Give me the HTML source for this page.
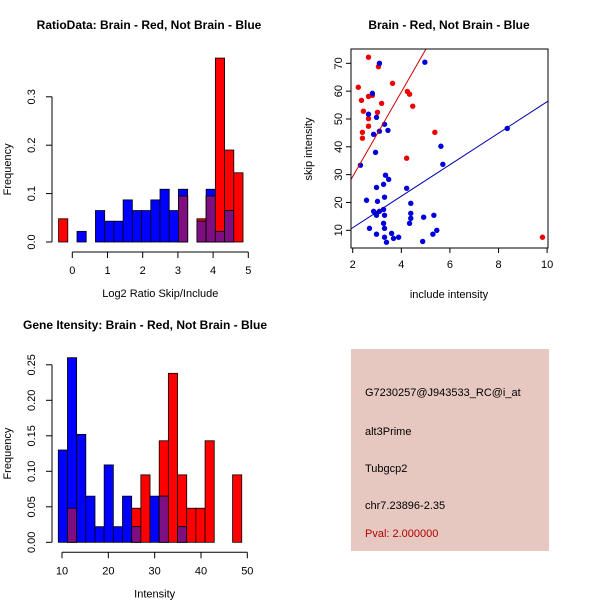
<!DOCTYPE html>
<html><head><meta charset="utf-8"><style>
body{margin:0;background:#fff}
svg{display:block;font-family:"Liberation Sans",sans-serif}
</style></head><body>
<svg id="c" width="600" height="600" xmlns="http://www.w3.org/2000/svg">
<rect width="600" height="600" fill="#fff"/>
<g id="p1"></g>
<g id="p2"></g>
<g id="p3"></g>
<g>
<rect x="351" y="349" width="198" height="202" fill="#e6c8c0"/>
<text x="365" y="396" font-size="11">G7230257@J943533_RC@i_at</text>
<text x="365" y="435" font-size="11">alt3Prime</text>
<text x="365" y="472" font-size="11">Tubgcp2</text>
<text x="365" y="509" font-size="11">chr7.23896-2.35</text>
<text x="365" y="537" font-size="11" fill="#b00000">Pval: 2.000000</text>
</g>
</svg>
<script>
// Histogram 1 data
const h1Start = -0.39, h1Width = 0.262;
const h1Red  = [0.048,0,0,0,0,0,0,0,0,0,0,0,0,0.095,0,0.048,0.095,0.38,0.19,0.143];
const h1Blue = [0,0,0.022,0,0.065,0.043,0.043,0.087,0.065,0.065,0.087,0.109,0.065,0.109,0,0.043,0.109,0.022,0.065,0];
const h1XTicks = [0,1,2,3,4,5];
const h1YTicks = ["0.0","0.1","0.2","0.3"];
// Histogram 3 data
const h3Start = 9.2, h3Width = 1.98;
const h3Red  = [0,0.048,0,0,0,0,0,0,0.048,0.095,0,0.143,0.238,0.095,0.048,0.048,0.143,0,0,0.095];
const h3Blue = [0.13,0.26,0.152,0.065,0.022,0.109,0.022,0.065,0.022,0,0.065,0.065,0,0.022,0,0,0,0,0,0];
const h3XTicks = [10,20,30,40,50];
const h3YTicks = ["0.00","0.05","0.10","0.15","0.20","0.25"];
// Scatter data
const redX = [2.65,3.06,2.23,3.64,2.36,2.65,2.81,3.19,4.25,4.34,4.47,2.44,3.02,2.65,2.65,2.40,2.40,5.38,4.22,9.81];
const redY = [72.2,68.8,61.4,62.8,56.7,58.1,58.5,55.6,59.9,58.9,54.6,52.8,52.4,50.1,47.4,45.2,43.1,45.2,35.9,7.5];
const blueX = [3.10,4.97,2.81,2.65,2.98,3.31,3.10,3.45,2.86,2.94,5.63,8.36,2.32,5.71,3.35,3.48,3.27,2.98,4.22,2.57,3.31,3.02,4.39,2.86,2.94,3.10,3.27,2.98,3.31,4.39,4.39,4.34,4.92,5.34,3.27,2.69,3.31,2.98,3.60,3.31,3.68,3.89,3.39,4.88,5.46,5.30];
const blueY = [70.0,70.4,59.2,51.7,50.6,48.1,45.6,45.9,44.5,38.0,40.2,46.6,33.4,33.7,29.8,28.3,26.5,25.4,25.1,20.8,21.9,20.4,19.7,16.8,16.1,16.8,17.5,15.4,15.4,16.1,14.3,12.5,14.7,15.4,12.5,10.7,10.7,8.6,8.9,7.5,7.1,7.5,5.7,6.0,10.0,8.6];
const redFit = [15.2,-1.1];
const blueFit = [5.66,-0.4];
const sXTicks = [2,4,6,8,10];
const sYTicks = [10,20,30,40,50,60,70];

const NS="http://www.w3.org/2000/svg";
function mk(p,t,a){const e=document.createElementNS(NS,t);for(const k in a)e.setAttribute(k,a[k]);p.appendChild(e);return e;}

function hist(g,title,titleX,titleY,xlabel,start,w,red,blue,xt,yt,yStep,sx,sy){
  const t=mk(g,'text',{x:titleX,y:titleY,'font-size':12,'font-weight':'bold','text-anchor':'middle'});
  t.textContent=title;
  
  
  for(let i=0;i<red.length;i++){
    const x0=sx(start+i*w), x1=sx(start+(i+1)*w);
    const r=red[i], b=blue[i], m=Math.min(r,b);
    const draw=(v,col,nm)=>{ if(v<=0)return;
      const e=mk(g,'rect',{x:x0,y:sy(v),width:x1-x0,height:sy(0)-sy(v),fill:col,stroke:'#000','stroke-width':0.8});
      
      };
    if(r>=b){draw(r,'#ff0000','red-bar');draw(b,'#0000ff','blue-bar');}
    else{draw(b,'#0000ff','blue-bar');draw(r,'#ff0000','red-bar');}
    draw(m,'#7f0f80','overlap-bar');
  }
  const ax=sy(0)+10;
  const xa=mk(g,'line',{x1:sx(xt[0]),x2:sx(xt[xt.length-1]),y1:ax,y2:ax,stroke:'#000'});
  
  
  xt.forEach(v=>{mk(g,'line',{x1:sx(v),x2:sx(v),y1:ax,y2:ax+6,stroke:'#000'});
    const l=mk(g,'text',{x:sx(v),y:ax+22,'font-size':11,'text-anchor':'middle'});l.textContent=v;
    
    });
  const ya=52;
  const yl=mk(g,'line',{x1:ya,x2:ya,y1:sy(0),y2:sy((yt.length-1)*yStep),stroke:'#000'});
  
  
  yt.forEach((s,i)=>{const y=sy(i*yStep);mk(g,'line',{x1:ya-6,x2:ya,y1:y,y2:y,stroke:'#000'});
    const l=mk(g,'text',{x:ya-17,y:y,'font-size':11,'text-anchor':'middle',transform:`rotate(-90 ${ya-17} ${y})`});l.textContent=s;
    
    });
  const xl=mk(g,'text',{x:(sx(xt[0])+sx(xt[xt.length-1]))/2,y:ax+45,'font-size':11,'text-anchor':'middle'});xl.textContent=xlabel;
  
  
  const cy=(sy(0)+sy((yt.length-1)*yStep))/2;
  const yt2=mk(g,'text',{x:11,y:cy,'font-size':11,'text-anchor':'middle',transform:`rotate(-90 11 ${cy})`});yt2.textContent='Frequency';
  
  
}
hist(document.getElementById('p1'),'RatioData: Brain - Red, Not Brain - Blue',149,29,'Log2 Ratio Skip/Include',
  h1Start,h1Width,h1Red,h1Blue,h1XTicks,h1YTicks,0.1,v=>72.3+v*35.2,v=>242-v*484);
hist(document.getElementById('p3'),'Gene Itensity: Brain - Red, Not Brain - Blue',145,329,'Intensity',
  h3Start,h3Width,h3Red,h3Blue,h3XTicks,h3YTicks,0.05,v=>62+(v-10)*4.633,v=>542.3-v*710);

// Scatter
(function(){
  const g=document.getElementById('p2');
  const sx=v=>352.7+(v-2)*24.3, sy=v=>230.3-(v-10)*2.783;
  const L=351,R=548,T=49,B=248;
  const t=mk(g,'text',{x:449,y:29,'font-size':12,'font-weight':'bold','text-anchor':'middle'});t.textContent='Brain - Red, Not Brain - Blue';
  
  
  const cp=mk(g,'clipPath',{id:'clp'});mk(cp,'rect',{x:L,y:T,width:R-L,height:B-T});
  const fit=(f,col,nm)=>{const x0=1.9,x1=10.2;
    const e=mk(g,'line',{x1:sx(x0),y1:sy(f[0]*x0+f[1]),x2:sx(x1),y2:sy(f[0]*x1+f[1]),stroke:col,'clip-path':'url(#clp)'});
    
    };
  redX.forEach((x,i)=>{const c=mk(g,'circle',{cx:sx(x),cy:sy(redY[i]),r:2.7,fill:'#ee0000'});
    
    });
  blueX.forEach((x,i)=>{const c=mk(g,'circle',{cx:sx(x),cy:sy(blueY[i]),r:2.7,fill:'#0000dd'});
    
    });
  fit(redFit,'#cc0000','red-fit-line');
  fit(blueFit,'#0000aa','blue-fit-line');
  const box=mk(g,'rect',{x:L,y:T,width:R-L,height:B-T,fill:'none',stroke:'#000'});
  
  
  sXTicks.forEach(v=>{mk(g,'line',{x1:sx(v),x2:sx(v),y1:B,y2:B+5,stroke:'#000'});
    const l=mk(g,'text',{x:sx(v),y:B+20,'font-size':11,'text-anchor':'middle'});l.textContent=v;
    
    });
  sYTicks.forEach(v=>{mk(g,'line',{x1:L-5,x2:L,y1:sy(v),y2:sy(v),stroke:'#000'});
    const l=mk(g,'text',{x:L-9,y:sy(v),'font-size':11,'text-anchor':'middle',transform:`rotate(-90 ${L-9} ${sy(v)})`});l.textContent=v;
    
    });
  const xl=mk(g,'text',{x:449,y:298,'font-size':11,'text-anchor':'middle'});xl.textContent='include intensity';
  
  
  const yl=mk(g,'text',{x:312,y:149,'font-size':11,'text-anchor':'middle',transform:'rotate(-90 312 149)'});yl.textContent='skip intensity';
  
  
})();
</script>
</body></html>
